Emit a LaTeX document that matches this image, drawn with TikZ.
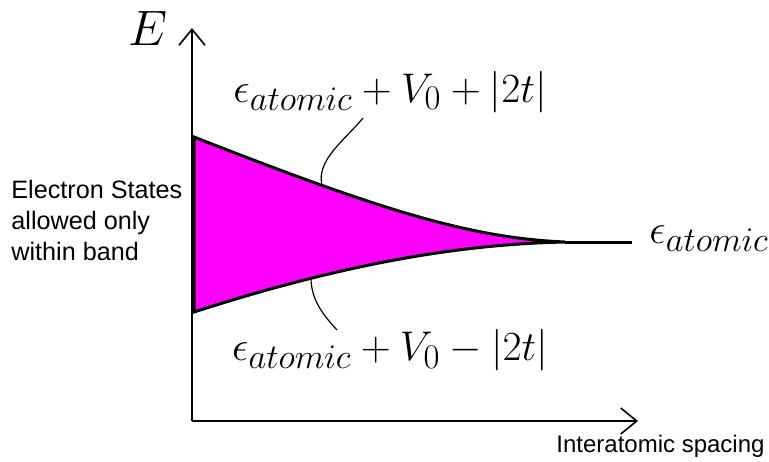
\documentclass[tikz,border=0pt]{standalone}
\usepackage{amsmath}
\usepackage{fontspec}
\setsansfont{Liberation Sans}
\usepackage{tikz}
\usetikzlibrary{positioning, arrows.meta, calc}
\DeclareMathSizes{20.5}{20.5}{16.5}{12}
\definecolor{bandfill}{RGB}{255,0,255}

\begin{document}
\begin{tikzpicture}[
    x=0.5pt, y=-0.5pt,
    axis/.style={line width=1pt, black, -{Straight Barb[length=8pt, width=13pt, line width=0.8pt]}},
    band/.style={fill=bandfill, draw=black, line width=1.5pt},
    leader/.style={line width=0.6pt, black},
    mathlabel/.style={inner sep=0pt, font=\fontsize{20.5}{24}\selectfont},
    sidetext/.style={inner sep=0pt, align=left, font=\sffamily\fontsize{12}{15.5}\selectfont},
]
\useasboundingbox (0,0) rectangle (769,461);
% Axes
\coordinate (origin) at (192,421);
\coordinate (ytip) at (192,28);
\coordinate (xtip) at (638,421);
\draw[axis] (origin) -- (ytip);
\draw[axis] (origin) -- (xtip);
\node[inner sep=0pt, anchor=base, font=\fontsize{33}{38}\selectfont] (elabel) at (148,45) {$E$};
\node[sidetext, anchor=base west] (xlabel) at (556,452) {Interatomic spacing};
% Band
\coordinate (bandtop) at (194,137);
\coordinate (bandbot) at (194,312);
\coordinate (bandtip) at (565,242);
\coordinate (lineend) at (632,242);
\filldraw[band] (bandtop) .. controls (380,210) and (470,238) .. (bandtip)
    .. controls (470,244) and (355,260) .. (bandbot) -- cycle;
\draw[line width=1.5pt] (bandtip) -- (lineend);
\node[mathlabel, anchor=base west] (atomic) at (649,243) {$\epsilon_{atomic}$};
% Band edge labels
\node[mathlabel, anchor=base] (upper) at (390,102) {$\epsilon_{atomic} + V_0 + |2t|$};
\node[mathlabel, anchor=base] (lower) at (390,360) {$\epsilon_{atomic} + V_0 - |2t|$};
\coordinate (upmark) at (322,185);
\coordinate (upend) at (363,118);
\coordinate (lowmark) at (311,278);
\coordinate (lowend) at (337,330);
\draw[leader] (upmark) .. controls (316,160) and (345,140) .. (upend);
\draw[leader] (lowmark) .. controls (311,300) and (324,316) .. (lowend);
% Side note
\node[sidetext, anchor=north west, font=\sffamily\fontsize{12.6}{15.5}\selectfont] (note) at (11,180) {Electron States\\allowed only\\within band};
\end{tikzpicture}
\end{document}
